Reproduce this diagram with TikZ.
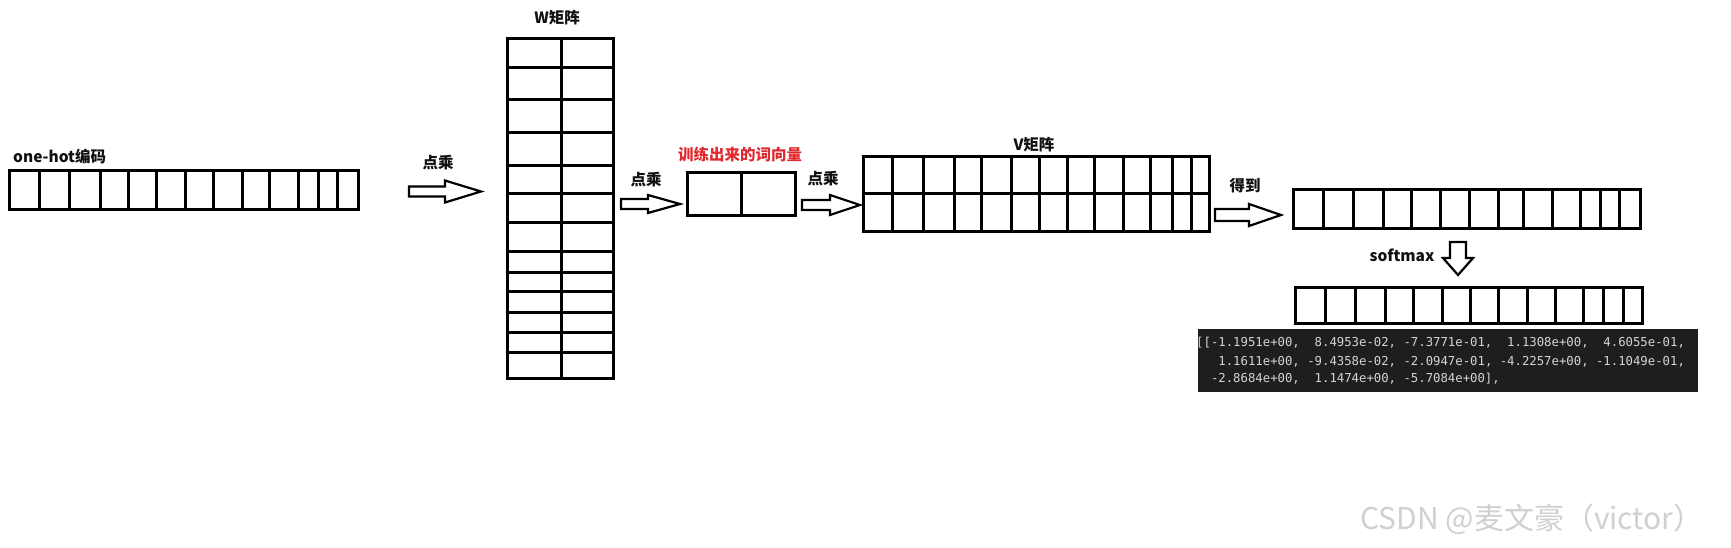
\documentclass[tikz,border=0pt]{standalone}
\usepackage{fontspec}
\usepackage{tikz}
\usetikzlibrary{positioning}
\newfontfamily\cjkfont{Noto Sans CJK SC}
\newfontfamily\codefont{DejaVu Sans Mono}
\definecolor{InkBlack}{HTML}{111111}
\definecolor{LabelRed}{HTML}{E0282E}
\definecolor{CodeBg}{HTML}{1E1E1E}
\definecolor{CodeFg}{HTML}{D4D4D4}
\definecolor{MarkGray}{HTML}{D0D0D0}

\begin{document}
\begin{tikzpicture}[x=1pt, y=-1pt,
    cellbox/.style={draw, line width=3pt, inner sep=0pt},
    cellline/.style={line width=3pt},
    hollow/.style={draw, line width=2.2pt, line join=miter, fill=white},
    lbl/.style={font=\cjkfont\bfseries\fontsize{15.5}{18}\selectfont, text=InkBlack, inner sep=0pt},
    codeline/.style={font=\codefont\fontsize{12.3}{18}\selectfont, text=CodeFg, anchor=base west, inner sep=0pt}]
  \useasboundingbox[fill=white] (0,0) rectangle (1731,548);

  % one-hot vector
  \node[cellbox, minimum width=349, minimum height=38] (onehot) at (183.5,190) {};
  \foreach \x in {39,69,100,128,156,185,213,242,269,298,318,337}
    \draw[cellline] (\x,0 |- onehot.north) -- (\x,0 |- onehot.south);
  \node[lbl, anchor=west] (onehotlbl) at (13,157) {one-hot编码};

  % first product arrow
  \coordinate (dotA) at (409,191.5);
  \draw[hollow] (dotA) ++(0,-5) -- ++(36,0) -- ++(0,-6) -- ++(36,11) -- ++(-36,11) -- ++(0,-6) -- ++(-36,0) -- cycle;
  \node[lbl] (dotAlbl) at (438,163) {点乘};

  % W matrix
  \node[cellbox, minimum width=106, minimum height=339] (wmat) at (560,208.5) {};
  \draw[cellline] (561,0 |- wmat.north) -- (561,0 |- wmat.south);
  \foreach \y in {68,100,133,166,194,222,251,272,291,312,332,352}
    \draw[cellline] (wmat.west |- 0,\y) -- (wmat.east |- 0,\y);
  \node[lbl] (wmatlbl) at (557,18) {W矩阵};

  % second product arrow
  \coordinate (dotB) at (621,204);
  \draw[hollow] (dotB) ++(0,-5) -- ++(27,0) -- ++(0,-4) -- ++(32,9) -- ++(-32,9) -- ++(0,-4) -- ++(-27,0) -- cycle;
  \node[lbl] (dotBlbl) at (646,180) {点乘};

  % trained word vector
  \node[cellbox, minimum width=108, minimum height=42] (wordvec) at (741,194) {};
  \draw[cellline] (741,0 |- wordvec.north) -- (741,0 |- wordvec.south);
  \node[lbl, text=LabelRed] (wordveclbl) at (740,155) {训练出来的词向量};

  % third product arrow
  \coordinate (dotC) at (802,205);
  \draw[hollow] (dotC) ++(0,-5) -- ++(28,0) -- ++(0,-5) -- ++(30,10) -- ++(-30,10) -- ++(0,-5) -- ++(-28,0) -- cycle;
  \node[lbl] (dotClbl) at (823,179) {点乘};

  % V matrix
  \node[cellbox, minimum width=346, minimum height=74] (vmat) at (1036,194) {};
  \draw[cellline] (vmat.west) -- (vmat.east);
  \foreach \x in {892,923,954,981,1011,1039,1067,1094,1123,1150,1172,1191}
    \draw[cellline] (\x,0 |- vmat.north) -- (\x,0 |- vmat.south);
  \node[lbl] (vmatlbl) at (1034,145) {V矩阵};

  % result arrow
  \coordinate (getA) at (1215,215);
  \draw[hollow] (getA) ++(0,-6) -- ++(34,0) -- ++(0,-5) -- ++(32,11) -- ++(-32,11) -- ++(0,-5) -- ++(-34,0) -- cycle;
  \node[lbl] (getAlbl) at (1245,186) {得到};

  % output vector
  \node[cellbox, minimum width=347, minimum height=38] (outvec) at (1466.5,209) {};
  \foreach \x in {1323,1353,1383,1411,1440,1469,1498,1523,1552,1580,1600,1619}
    \draw[cellline] (\x,0 |- outvec.north) -- (\x,0 |- outvec.south);

  % softmax arrow
  \coordinate (smax) at (1458,242);
  \draw[hollow] (smax) ++(-8,0) -- ++(0,16) -- ++(-7,0) -- ++(15,17) -- ++(15,-17) -- ++(-7,0) -- ++(0,-16) -- cycle;
  \node[lbl] (smaxlbl) at (1402,255) {softmax};

  % softmax vector
  \node[cellbox, minimum width=347, minimum height=36] (probvec) at (1468.5,305) {};
  \foreach \x in {1325,1355,1385,1413,1442,1470,1498,1527,1555,1583,1603,1623}
    \draw[cellline] (\x,0 |- probvec.north) -- (\x,0 |- probvec.south);

  % printed values
  \node[fill=CodeBg, inner sep=0pt, minimum width=500, minimum height=63] (code) at (1448,360.5) {};
  \node[codeline] (codeA) at (1196,346.5) {[[-1.1951e+00,~~8.4953e-02,~-7.3771e-01,~~1.1308e+00,~~4.6055e-01,};
  \node[codeline] (codeB) at (1196,365) {~~~1.1611e+00,~-9.4358e-02,~-2.0947e-01,~-4.2257e+00,~-1.1049e-01,};
  \node[codeline] (codeC) at (1196,382.5) {~~-2.8684e+00,~~1.1474e+00,~-5.7084e+00],};

  % watermark
  \node[font=\cjkfont\fontsize{30}{34}\selectfont, text=MarkGray, inner sep=0pt] (mark) at (1532,519) {CSDN @麦文豪（victor）};
\end{tikzpicture}
\end{document}
